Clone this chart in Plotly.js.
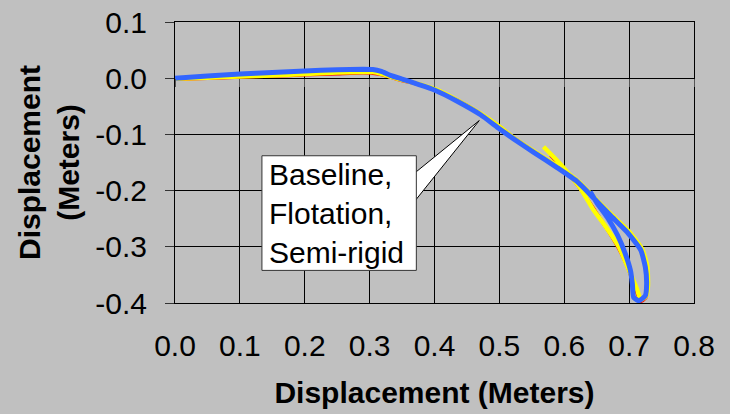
<!DOCTYPE html>
<html>
<head>
<meta charset="utf-8">
<script src="https://cdn.plot.ly/plotly-3.0.1.min.js"></script>
<style>html,body{margin:0;padding:0;background:#C0C0C0;}</style>
</head>
<body>
<div id="chart" style="width:730px;height:414px;"></div>
<script>
// ---- data ----
const seriesNames = ["Baseline", "Flotation", "Semi-rigid"];

const baselineX = [0.000,0.050,0.100,0.150,0.200,0.250,0.290,0.305,0.318,0.332,0.350,0.375,0.400,0.435,0.471,0.500,0.522,0.553,0.589,0.620,0.646,0.672,0.699,0.720,0.727,0.728,0.726,0.718,0.709,0.699,0.685,0.668,0.648,0.628,0.605,0.579];
const baselineY = [-0.002,0.000,0.002,0.004,0.006,0.008,0.0095,0.009,0.0065,0.002,-0.004,-0.011,-0.020,-0.039,-0.063,-0.086,-0.106,-0.130,-0.156,-0.183,-0.213,-0.243,-0.273,-0.305,-0.336,-0.370,-0.390,-0.397,-0.372,-0.340,-0.305,-0.272,-0.237,-0.202,-0.168,-0.137];

const flotationX = [0.000,0.050,0.100,0.150,0.200,0.250,0.290,0.305,0.318,0.332,0.350,0.375,0.400,0.435,0.471,0.500,0.522,0.553,0.589,0.620,0.646,0.672,0.699,0.720,0.728,0.729,0.726,0.718,0.712,0.700,0.684,0.662,0.646,0.625,0.604,0.586,0.568];
const flotationY = [-0.001,0.001,0.003,0.005,0.0075,0.010,0.0112,0.011,0.008,0.003,-0.003,-0.010,-0.019,-0.039,-0.063,-0.086,-0.106,-0.130,-0.156,-0.182,-0.212,-0.242,-0.272,-0.304,-0.335,-0.370,-0.388,-0.394,-0.375,-0.342,-0.300,-0.261,-0.236,-0.196,-0.166,-0.143,-0.122];

const semiRigidX = [0.000,0.050,0.100,0.150,0.200,0.250,0.290,0.305,0.318,0.332,0.350,0.375,0.400,0.435,0.471,0.500,0.522,0.553,0.589,0.620,0.646,0.671,0.697,0.718,0.725,0.727,0.725,0.715,0.707,0.705,0.702,0.694,0.682,0.666,0.651,0.640];
const semiRigidY = [0.000,0.004,0.0075,0.010,0.013,0.015,0.016,0.0155,0.012,0.005,-0.0015,-0.011,-0.021,-0.041,-0.065,-0.090,-0.108,-0.132,-0.159,-0.184,-0.214,-0.244,-0.274,-0.306,-0.336,-0.366,-0.387,-0.396,-0.390,-0.366,-0.342,-0.312,-0.279,-0.247,-0.223,-0.202];

const xTickVals = [0.0,0.1,0.2,0.3,0.4,0.5,0.6,0.7,0.8];
const xTickText = ["0.0","0.1","0.2","0.3","0.4","0.5","0.6","0.7","0.8"];
const yTickVals = [-0.4,-0.3,-0.2,-0.1,0.0,0.1];
const yTickText = ["-0.4","-0.3","-0.2","-0.1","0.0","0.1"];
const xRange = [0, 0.8];
const yRange = [-0.4, 0.1];

const calloutText = "Baseline,<br>Flotation,<br>Semi-rigid";
const calloutTextPos = {x: 0.143, y: -0.240};
const calloutRect = {x0: 0.134, x1: 0.372, y0: -0.138, y1: -0.342};
const calloutTip = {x: 0.469, y: -0.0754};
const calloutBase = {x: 0.366, y1: -0.172, y2: -0.224};

// ---- styles ----
const FONT = '"Liberation Sans", Arial, sans-serif';
const colors = ["#FF0000", "#FFFF00", "#3366FF"];
const widths = [3.5, 4.5, 5];

const xs = [baselineX, flotationX, semiRigidX];
const ys = [baselineY, flotationY, semiRigidY];

const traces = seriesNames.map((n, i) => ({
  type: "scatter", mode: "lines", name: n,
  x: xs[i], y: ys[i],
  line: {color: colors[i], width: widths[i], shape: "spline", smoothing: 0.5},
  hoverinfo: "skip"
}));
// overlay axis for the small tick marks on the y=0 line
traces.push({type: "scatter", mode: "none", x: [], y: [], xaxis: "x2", showlegend: false, hoverinfo: "skip"});

const layout = {
  width: 730, height: 414,
  margin: {l: 175, r: 36, t: 22, b: 111, pad: 0},
  paper_bgcolor: "#C0C0C0",
  plot_bgcolor: "#C0C0C0",
  showlegend: false,
  font: {family: FONT, color: "#000", size: 30},
  xaxis: {
    range: xRange, tickvals: xTickVals, ticktext: xTickText,
    showgrid: true, gridcolor: "#000", gridwidth: 1,
    showline: true, linecolor: "#000", linewidth: 1, mirror: true,
    zeroline: false, ticks: "",
    ticklabelstandoff: 16,
    tickfont: {family: FONT, size: 30, color: "#000"},
    title: {text: "<b>Displacement (Meters)</b>", font: {family: FONT, size: 30, color: "#000"}, standoff: 20}
  },
  xaxis2: {
    overlaying: "x", anchor: "free",
    position: (0 - yRange[0]) / (yRange[1] - yRange[0]),
    range: xRange, tickvals: xTickVals,
    ticks: "outside", ticklen: 8, tickcolor: "#555", tickwidth: 1,
    showticklabels: false, showgrid: false, showline: false, zeroline: false
  },
  yaxis: {
    range: yRange, tickvals: yTickVals, ticktext: yTickText,
    showgrid: true, gridcolor: "#000", gridwidth: 1,
    showline: true, linecolor: "#000", linewidth: 1, mirror: true,
    zeroline: false, ticks: "outside", ticklen: 9, tickcolor: "#333",
    ticklabelstandoff: 12,
    tickfont: {family: FONT, size: 30, color: "#000"},
    title: {text: "<b>Displacement<br>(Meters)</b>", font: {family: FONT, size: 30, color: "#000"}, standoff: 6}
  },
  shapes: [{
    type: "path", xref: "x", yref: "y", layer: "above",
    path: `M ${calloutBase.x},${calloutBase.y1} L ${calloutTip.x},${calloutTip.y} L ${calloutBase.x},${calloutBase.y2} Z`,
    fillcolor: "#FFFFFF", line: {color: "#000", width: 1}
  }, {
    type: "rect", xref: "x", yref: "y", layer: "above",
    x0: calloutRect.x0, x1: calloutRect.x1, y0: calloutRect.y0, y1: calloutRect.y1,
    fillcolor: "#FFFFFF", line: {color: "#333", width: 1}
  }],
  annotations: [{
    xref: "x", yref: "y", x: calloutTextPos.x, y: calloutTextPos.y,
    xanchor: "left", yanchor: "middle",
    text: calloutText, align: "left", showarrow: false,
    font: {family: FONT, size: 30, color: "#000"},
    borderpad: 0
  }]
};

Plotly.newPlot("chart", traces, layout, {staticPlot: true, displayModeBar: false});
</script>
</body>
</html>
